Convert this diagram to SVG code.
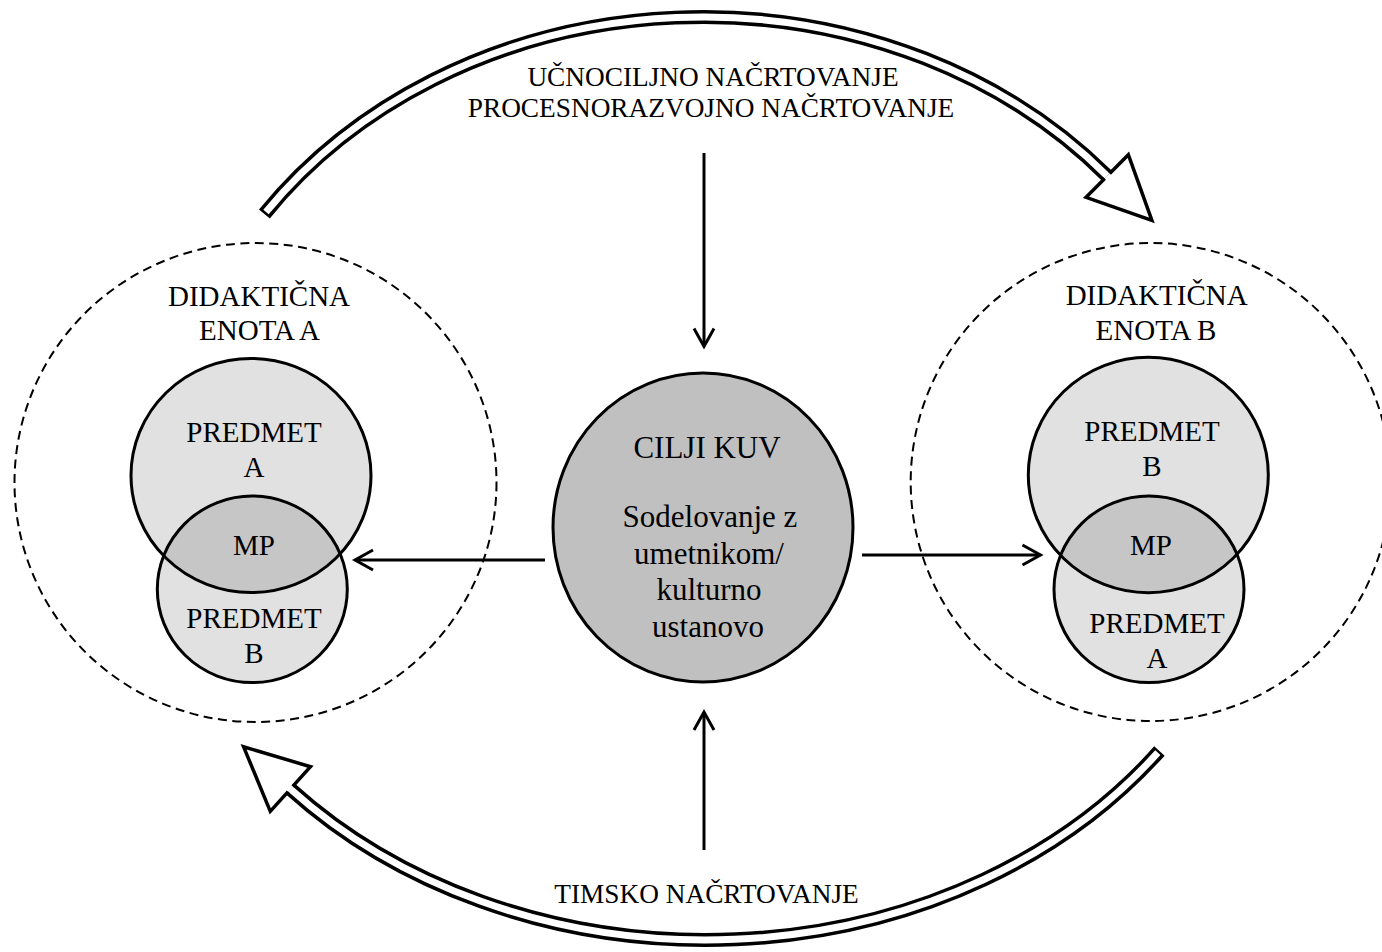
<svg xmlns="http://www.w3.org/2000/svg" width="1382" height="952" viewBox="0 0 1382 952">
  <defs>
    <style>
      .t { font-family: "Liberation Serif", "Times New Roman", serif; fill: #000; text-anchor: middle; }
      .f20 { font-size: 27.3px; }
      .f22 { font-size: 29px; }
      .f23 { font-size: 31px; }
      .dash { fill: none; stroke: #000; stroke-width: 2; stroke-dasharray: 9 5.5; }
      .light { fill: #e1e1e1; }
      .lens { fill: #c6c6c6; }
      .ring { fill: none; stroke: #000; stroke-width: 3; }
      .core { fill: #c0c0c0; stroke: #000; stroke-width: 3; }
      .band-o { fill: none; stroke: #000; stroke-width: 14; }
      .band-i { fill: none; stroke: #fff; stroke-width: 7; }
      .head { fill: #fff; stroke: #000; stroke-width: 3.5; stroke-linejoin: miter; }
      .conn { fill: none; stroke: #000; stroke-width: 3; marker-end: url(#chev); }
    </style>
    <marker id="chev" markerUnits="userSpaceOnUse" markerWidth="24" markerHeight="24" viewBox="0 0 24 24" refX="20" refY="12" orient="auto">
      <path d="M2,2 L20,12 L2,22" fill="none" stroke="#000" stroke-width="3"/>
    </marker>
    <clipPath id="clipA"><ellipse cx="251" cy="475.5" rx="120" ry="117"/></clipPath>
    <clipPath id="clipB"><ellipse cx="1148.3" cy="475" rx="120" ry="117.7"/></clipPath>
  </defs>

  <!-- cycle arrows (hollow bands) -->
  <g id="cycle">
    <g id="arc-top">
      <path class="band-o" d="M264.4,214 A535,461 0 0 1 1107.2,176"/>
      <path class="band-i" d="M266,212 A535,461 0 0 1 1107.2,176"/>
      <polyline class="head" points="1109.67,173.52 1128.35,154.72 1151.9,220.4 1086.05,197.28 1104.73,178.48"/>
    </g>
    <g id="arc-bottom">
      <path class="band-o" d="M1159.4,751 A562,462 0 0 1 290.4,789"/>
      <path class="band-i" d="M1157.8,752.7 A562,462 0 0 1 290.4,789"/>
      <polyline class="head" points="292.7,786.4 310.5,766.7 243.6,746.8 270.3,811.3 288.1,791.6"/>
    </g>
  </g>

  <!-- teaching unit A -->
  <g id="unit-a">
    <ellipse class="dash" cx="255.5" cy="482.5" rx="241" ry="239.5"/>
    <ellipse class="light" cx="251" cy="475.5" rx="120" ry="117"/>
    <ellipse class="light" cx="252.3" cy="589.3" rx="95" ry="93.3"/>
    <ellipse class="lens" cx="252.3" cy="589.3" rx="95" ry="93.3" clip-path="url(#clipA)"/>
    <ellipse class="ring" cx="251" cy="475.5" rx="120" ry="117"/>
    <ellipse class="ring" cx="252.3" cy="589.3" rx="95" ry="93.3"/>
    <text class="t f22" x="259" y="306">DIDAKTIČNA</text>
    <text class="t f22" x="259.5" y="340">ENOTA A</text>
    <text class="t f22" x="254" y="442">PREDMET</text>
    <text class="t f22" x="254" y="477">A</text>
    <text class="t f22" x="254" y="555">MP</text>
    <text class="t f22" x="254" y="628">PREDMET</text>
    <text class="t f22" x="254" y="663">B</text>
  </g>

  <!-- teaching unit B -->
  <g id="unit-b">
    <ellipse class="dash" cx="1150.7" cy="482" rx="240" ry="239"/>
    <ellipse class="light" cx="1148.3" cy="475" rx="120" ry="117.7"/>
    <ellipse class="light" cx="1149" cy="589.3" rx="95" ry="93.3"/>
    <ellipse class="lens" cx="1149" cy="589.3" rx="95" ry="93.3" clip-path="url(#clipB)"/>
    <ellipse class="ring" cx="1148.3" cy="475" rx="120" ry="117.7"/>
    <ellipse class="ring" cx="1149" cy="589.3" rx="95" ry="93.3"/>
    <text class="t f22" x="1156.7" y="305">DIDAKTIČNA</text>
    <text class="t f22" x="1156" y="339.5">ENOTA B</text>
    <text class="t f22" x="1152" y="441">PREDMET</text>
    <text class="t f22" x="1152" y="475.5">B</text>
    <text class="t f22" x="1151" y="555">MP</text>
    <text class="t f22" x="1157" y="633">PREDMET</text>
    <text class="t f22" x="1157" y="667.5">A</text>
  </g>

  <!-- central goals -->
  <g id="goals">
    <ellipse class="core" cx="703" cy="527.5" rx="150" ry="154.5"/>
    <text class="t f23" x="707" y="458">CILJI KUV</text>
    <text class="t f23" x="710" y="527">Sodelovanje z</text>
    <text class="t f23" x="709" y="563.5">umetnikom/</text>
    <text class="t f23" x="709" y="599.5">kulturno</text>
    <text class="t f23" x="708" y="637">ustanovo</text>
  </g>

  <!-- planning labels -->
  <g id="planning-top">
    <text class="t f20" x="713" y="86">UČNOCILJNO NAČRTOVANJE</text>
    <text class="t f20" x="711" y="117">PROCESNORAZVOJNO NAČRTOVANJE</text>
  </g>
  <g id="planning-bottom">
    <text class="t f20" x="706.5" y="903">TIMSKO NAČRTOVANJE</text>
  </g>

  <!-- connectors -->
  <g id="connectors">
    <path class="conn" d="M704,153 V346.5"/>
    <path class="conn" d="M704,850 V712"/>
    <path class="conn" d="M545,560 H355"/>
    <path class="conn" d="M862,555 H1040.5"/>
  </g>
</svg>
